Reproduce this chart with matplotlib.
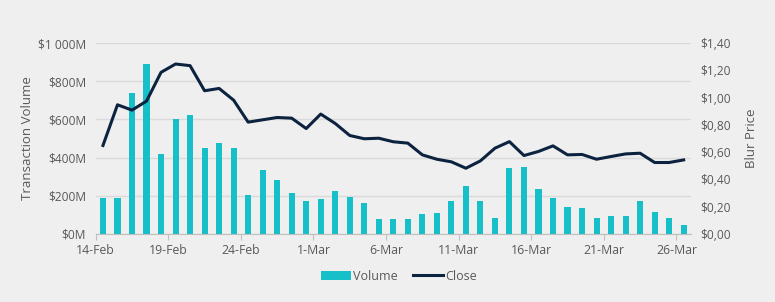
import numpy as np
import matplotlib
matplotlib.use("Agg")
import matplotlib.pyplot as plt
import pandas as pd

# daily data 14-Feb .. 26-Mar
dates = pd.date_range("2023-02-14", "2023-03-26", freq="D")
labels = [d.strftime("%-d-%b") for d in dates]

volume = [190, 190, 740, 890, 421, 603, 621, 448, 477, 448,
          206, 337, 281, 217, 173, 185, 224, 196, 164, 77,
          80, 79, 107, 110, 171, 250, 173, 84, 346, 350,
          233, 189, 142, 135, 84, 94, 94, 171, 115, 82, 45]

close = [0.649, 0.947, 0.908, 0.974, 1.185, 1.246, 1.234, 1.050, 1.067, 0.981,
         0.820, 0.837, 0.854, 0.849, 0.773, 0.879, 0.810, 0.722, 0.698, 0.702,
         0.676, 0.666, 0.580, 0.548, 0.529, 0.482, 0.536, 0.629, 0.677, 0.575,
         0.605, 0.646, 0.580, 0.583, 0.548, 0.568, 0.587, 0.592, 0.524, 0.524, 0.543]

bg = "#efefef"
txt = "#595959"
plt.rcParams["font.family"] = ["Open Sans", "DejaVu Sans"]

fig = plt.figure(figsize=(7.75, 3.02), dpi=100, facecolor=bg)
ax = fig.add_axes([0.1235, 0.2252, 0.768, 0.6324], facecolor=bg)
ax2 = ax.twinx()

x = np.arange(len(dates))
ax.bar(x, volume, width=0.42, color="#17c0c9", label="Volume", zorder=2)
ax2.plot(x, close, color="#0c2340", lw=2.2, label="Close", zorder=3)

ax.set_xlim(-0.5, len(dates) - 0.5)
ax.set_ylim(0, 1000)
ax2.set_ylim(0, 1.4)
ax.set_yticks(np.arange(0, 1001, 200))
ax.set_yticklabels(["$0M", "$200M", "$400M", "$600M", "$800M", "$1 000M"])
ax2.set_yticks(np.arange(0, 1.41, 0.2))
ax2.set_yticklabels(["$" + f"{v:.2f}".replace(".", ",") for v in np.arange(0, 1.41, 0.2)])

ticks = np.arange(0, len(dates), 5)
ax.set_xticks(ticks - 0.5)
ax.set_xticklabels([labels[i] for i in ticks])

ax.grid(axis="y", color="#dadada", lw=1, zorder=0)
ax.set_axisbelow(True)
for a in (ax, ax2):
    for s in ("top", "left", "right", "bottom"):
        a.spines[s].set_visible(False)
ax.spines["bottom"].set_visible(True)
ax.spines["bottom"].set_color("#bfbfbf")

ax.tick_params(axis="y", length=0, labelsize=8.6, labelcolor=txt, pad=7)
ax2.tick_params(axis="y", length=0, labelsize=8.6, labelcolor=txt, pad=7)
ax.tick_params(axis="x", length=4, color="#bfbfbf", labelsize=8.8, labelcolor=txt, pad=3)

ax.set_ylabel("Transaction Volume", fontsize=9.5, color=txt, labelpad=3)
ax2.set_ylabel("Blur Price", fontsize=9.5, color=txt, labelpad=10)

h1, l1 = ax.get_legend_handles_labels()
h2, l2 = ax2.get_legend_handles_labels()
fig.legend(h1 + h2, l1 + l2, loc="center", bbox_to_anchor=(0.515, 0.085), ncol=2,
           frameon=False, fontsize=9, labelcolor=txt, handlelength=2.4,
           handleheight=0.7, handletextpad=0.2, columnspacing=1.2)

fig.savefig("out.png", dpi=100, facecolor=bg)
